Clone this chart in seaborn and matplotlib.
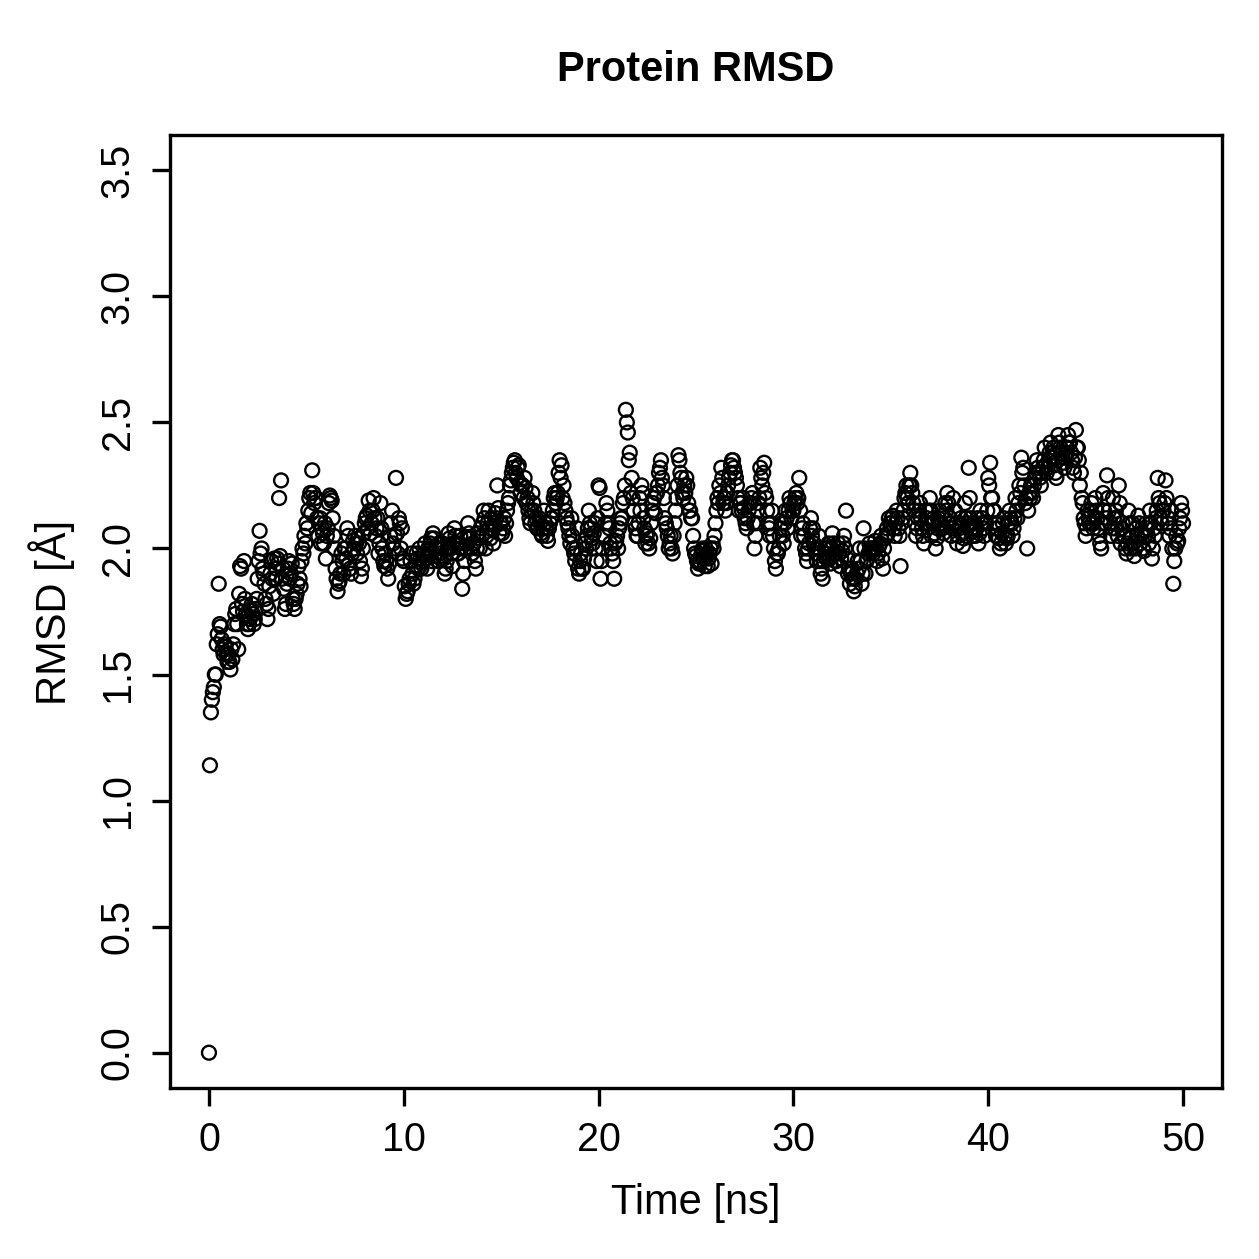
import numpy as np
import pandas as pd
import matplotlib
matplotlib.use("Agg")
import matplotlib.pyplot as plt
import seaborn as sns

# RMSD values (Å) at t = 0.0, 0.1, 0.2 ... ns (1 ns per row)
rmsd_00_09 = [0.00, 1.35, 1.43, 1.50, 1.62, 1.86, 1.69, 1.60, 1.62, 1.58,
              1.58, 1.52, 1.56, 1.70, 1.76, 1.60, 1.93, 1.78, 1.95, 1.74,
              1.68, 1.72, 1.78, 1.70, 1.76, 1.88, 2.07, 2.00, 1.90, 1.80,
              1.72, 1.85, 1.95, 1.82, 1.88, 1.96, 2.20, 2.27, 1.92, 1.76,
              1.86, 1.95, 1.90, 1.80, 1.76, 1.82, 1.93, 1.85, 2.00, 2.05,
              2.10, 2.15, 2.22, 2.31, 2.18, 2.20, 2.05, 2.12, 2.08, 2.02,
              1.96, 2.08, 2.21, 2.19, 2.05, 1.92, 1.83, 1.87, 1.98, 1.90,
              2.00, 2.08, 1.94, 1.90, 2.03, 2.05, 1.98, 2.02, 1.89, 2.00,
              2.10, 2.13, 2.19, 2.06, 2.15, 2.12, 2.08, 1.98, 2.18, 2.00,
              1.93, 1.95, 1.88, 2.05, 2.15, 2.00, 2.28, 1.98, 2.10, 2.08]
rmsd_10_19 = [1.95, 1.80, 1.83, 1.88, 1.98, 1.86, 1.93, 1.96, 2.00, 1.92,
              1.95, 2.02, 1.92, 1.98, 2.04, 2.06, 1.97, 2.00, 2.02, 1.96,
              2.02, 1.90, 1.95, 2.06, 2.00, 1.93, 2.08, 2.02, 1.98, 2.05,
              1.84, 1.95, 2.00, 2.10, 2.04, 1.98, 2.02, 1.92, 2.06, 2.00,
              2.05, 2.15, 2.00, 2.10, 2.08, 2.12, 2.02, 2.14, 2.25, 2.06,
              2.10, 2.08, 2.05, 2.15, 2.20, 2.27, 2.32, 2.35, 2.28, 2.33,
              2.22, 2.25, 2.28, 2.18, 2.15, 2.10, 2.22, 2.15, 2.12, 2.08,
              2.10, 2.05, 2.15, 2.08, 2.03, 2.10, 2.12, 2.20, 2.18, 2.22,
              2.35, 2.33, 2.25, 2.15, 2.10, 2.05, 2.12, 2.00, 1.95, 2.08,
              1.90, 1.98, 1.92, 2.02, 2.05, 2.15, 2.08, 2.02, 2.10, 1.95]
rmsd_20_29 = [2.25, 1.88, 2.00, 2.05, 2.18, 2.10, 2.02, 1.98, 1.88, 2.03,
              2.00, 2.10, 2.12, 2.20, 2.55, 2.46, 2.38, 2.28, 2.15, 2.08,
              2.05, 2.20, 2.25, 2.12, 2.02, 2.06, 2.00, 2.10, 2.18, 2.14,
              2.22, 2.30, 2.35, 2.25, 2.12, 2.08, 2.00, 2.05, 1.98, 2.10,
              2.20, 2.37, 2.30, 2.22, 2.25, 2.28, 2.18, 2.15, 2.12, 2.00,
              1.97, 1.92, 1.95, 1.99, 1.96, 2.00, 1.93, 1.98, 1.94, 2.00,
              2.10, 2.20, 2.25, 2.32, 2.18, 2.15, 2.22, 2.28, 2.33, 2.35,
              2.30, 2.25, 2.15, 2.18, 2.20, 2.12, 2.08, 2.15, 2.18, 2.22,
              2.00, 2.10, 2.18, 2.32, 2.25, 2.34, 2.20, 2.10, 2.05, 2.15,
              2.00, 1.92, 1.98, 2.05, 2.10, 2.02, 2.15, 2.08, 2.20, 2.12]
rmsd_30_39 = [2.15, 2.20, 2.18, 2.28, 2.05, 2.10, 2.00, 1.95, 2.02, 2.12,
              2.08, 2.00, 1.95, 2.05, 1.90, 1.88, 2.00, 1.96, 2.02, 1.94,
              2.06, 1.98, 1.95, 2.02, 1.93, 1.99, 2.05, 2.15, 1.90, 1.86,
              1.92, 1.83, 1.88, 1.95, 2.00, 1.86, 2.08, 1.90, 1.96, 2.02,
              2.00, 1.98, 2.03, 1.95, 2.01, 2.05, 1.92, 2.04, 2.08, 2.12,
              2.10, 2.13, 2.05, 2.15, 2.08, 1.93, 2.12, 2.20, 2.25, 2.18,
              2.30, 2.22, 2.15, 2.05, 2.12, 2.18, 2.08, 2.02, 2.15, 2.10,
              2.20, 2.05, 2.12, 2.00, 2.08, 2.15, 2.10, 2.06, 2.18, 2.22,
              2.10, 2.05, 2.20, 2.15, 2.02, 2.08, 2.12, 2.01, 2.18, 2.05,
              2.32, 2.12, 2.05, 2.10, 2.08, 2.02, 2.15, 2.12, 2.05, 2.10]
rmsd_40_50 = [2.28, 2.34, 2.20, 2.15, 2.05, 2.10, 2.00, 2.06, 2.12, 2.02,
              2.05, 2.15, 2.10, 2.08, 2.20, 2.12, 2.25, 2.36, 2.32, 2.18,
              2.00, 2.22, 2.25, 2.20, 2.28, 2.35, 2.30, 2.25, 2.32, 2.40,
              2.30, 2.35, 2.42, 2.38, 2.33, 2.28, 2.45, 2.40, 2.36, 2.32,
              2.38, 2.45, 2.42, 2.35, 2.30, 2.47, 2.40, 2.25, 2.20, 2.12,
              2.05, 2.15, 2.10, 2.18, 2.08, 2.20, 2.12, 2.05, 2.00, 2.22,
              2.10, 2.29, 2.15, 2.05, 2.20, 2.08, 2.12, 2.25, 2.02, 2.10,
              2.05, 1.98, 2.15, 2.00, 2.10, 1.97, 2.08, 2.13, 2.02, 2.06,
              1.99, 2.10, 2.05, 2.15, 1.96, 2.08, 2.12, 2.28, 2.18, 2.10,
              2.15, 2.27, 2.10, 2.05, 2.15, 1.86, 2.00, 2.02, 2.08, 2.18,
              2.10]

# RMSD values (Å) at the in-between frames t = 0.05, 0.15, 0.25 ... ns
rmsd_half_00_09 = [1.14, 1.40, 1.45, 1.50, 1.66, 1.70, 1.64, 1.58, 1.61, 1.55,
                   1.55, 1.60, 1.62, 1.74, 1.70, 1.82, 1.92, 1.75, 1.80, 1.70,
                   1.70, 1.76, 1.74, 1.72, 1.80, 1.95, 1.98, 1.92, 1.86, 1.78,
                   1.76, 1.90, 1.88, 1.96, 1.92, 1.94, 1.97, 1.88, 1.84, 1.78,
                   1.92, 1.88, 1.94, 1.78, 1.80, 1.86, 1.88, 1.95, 1.98, 2.02,
                   2.08, 2.20, 2.14, 2.22, 2.20, 2.12, 2.10, 2.02, 2.06, 2.10,
                   2.05, 2.18, 2.20, 2.12, 2.00, 1.88, 1.86, 1.90, 1.95, 2.00,
                   1.96, 2.05, 1.92, 1.98, 2.00, 2.02, 2.04, 1.95, 1.92, 2.06,
                   2.12, 2.08, 2.15, 2.10, 2.20, 2.05, 2.12, 2.02, 2.08, 1.95,
                   1.98, 1.92, 1.94, 2.10, 2.02, 2.05, 2.06, 2.12, 2.00, 1.96]
rmsd_half_10_19 = [1.85, 1.82, 1.86, 1.95, 1.90, 1.88, 1.98, 1.92, 1.96, 1.94,
                   1.98, 1.96, 2.00, 2.02, 1.95, 2.04, 2.00, 1.95, 1.98, 2.00,
                   1.96, 1.92, 2.00, 2.04, 1.98, 2.02, 2.05, 1.98, 2.02, 2.00,
                   1.90, 2.00, 2.04, 2.06, 2.00, 2.02, 1.95, 2.00, 2.04, 2.08,
                   2.10, 2.12, 2.05, 2.15, 2.04, 2.08, 2.10, 2.12, 2.16, 2.10,
                   2.06, 2.12, 2.10, 2.18, 2.25, 2.30, 2.34, 2.30, 2.32, 2.26,
                   2.25, 2.20, 2.24, 2.20, 2.12, 2.15, 2.18, 2.10, 2.08, 2.12,
                   2.06, 2.08, 2.10, 2.05, 2.08, 2.12, 2.15, 2.22, 2.20, 2.30,
                   2.28, 2.20, 2.18, 2.12, 2.08, 2.02, 2.05, 1.98, 2.00, 1.92,
                   1.95, 1.92, 1.96, 2.00, 2.08, 2.10, 2.04, 2.06, 2.00, 2.12]
rmsd_half_20_29 = [2.24, 1.95, 2.05, 2.10, 2.15, 2.08, 2.00, 1.95, 2.02, 2.05,
                   2.08, 2.12, 2.18, 2.25, 2.50, 2.35, 2.22, 2.20, 2.10, 2.05,
                   2.10, 2.15, 2.22, 2.08, 2.05, 2.02, 2.04, 2.15, 2.20, 2.22,
                   2.25, 2.32, 2.28, 2.20, 2.10, 2.05, 2.02, 2.00, 2.05, 2.15,
                   2.25, 2.35, 2.28, 2.20, 2.22, 2.25, 2.15, 2.12, 2.05, 1.98,
                   1.95, 1.94, 1.97, 2.00, 1.93, 1.98, 1.96, 2.00, 2.02, 2.05,
                   2.15, 2.18, 2.22, 2.28, 2.20, 2.18, 2.25, 2.30, 2.35, 2.32,
                   2.28, 2.20, 2.18, 2.15, 2.16, 2.10, 2.12, 2.18, 2.20, 2.10,
                   2.05, 2.15, 2.20, 2.28, 2.30, 2.22, 2.15, 2.08, 2.10, 2.05,
                   1.95, 1.98, 2.00, 2.08, 2.05, 2.10, 2.12, 2.15, 2.18, 2.15]
rmsd_half_30_39 = [2.18, 2.22, 2.20, 2.15, 2.08, 2.05, 1.98, 2.00, 2.08, 2.05,
                   2.02, 1.98, 2.00, 1.95, 1.92, 1.95, 1.98, 2.00, 1.96, 2.00,
                   2.02, 1.95, 2.00, 1.98, 1.96, 2.02, 2.00, 1.96, 1.92, 1.90,
                   1.88, 1.85, 1.90, 1.92, 1.95, 1.90, 2.00, 1.95, 1.98, 2.00,
                   1.99, 2.00, 2.00, 1.98, 2.02, 1.96, 2.00, 2.05, 2.06, 2.10,
                   2.12, 2.08, 2.10, 2.12, 2.05, 2.10, 2.15, 2.22, 2.20, 2.25,
                   2.25, 2.18, 2.10, 2.08, 2.15, 2.12, 2.05, 2.10, 2.12, 2.15,
                   2.15, 2.10, 2.06, 2.04, 2.12, 2.10, 2.08, 2.12, 2.15, 2.18,
                   2.12, 2.08, 2.15, 2.10, 2.05, 2.10, 2.06, 2.04, 2.12, 2.10,
                   2.20, 2.08, 2.10, 2.05, 2.12, 2.06, 2.10, 2.08, 2.10, 2.15]
rmsd_half_40_49 = [2.25, 2.20, 2.15, 2.10, 2.08, 2.04, 2.02, 2.10, 2.05, 2.04,
                   2.10, 2.12, 2.05, 2.12, 2.15, 2.18, 2.22, 2.30, 2.25, 2.20,
                   2.15, 2.20, 2.22, 2.25, 2.30, 2.32, 2.28, 2.30, 2.35, 2.33,
                   2.32, 2.38, 2.36, 2.40, 2.30, 2.35, 2.42, 2.38, 2.34, 2.36,
                   2.40, 2.42, 2.38, 2.32, 2.36, 2.40, 2.35, 2.30, 2.18, 2.10,
                   2.08, 2.12, 2.15, 2.10, 2.12, 2.15, 2.08, 2.02, 2.10, 2.15,
                   2.12, 2.20, 2.10, 2.08, 2.12, 2.15, 2.05, 2.18, 2.08, 2.05,
                   2.00, 2.02, 2.10, 2.05, 2.02, 2.00, 2.05, 2.10, 2.06, 2.00,
                   2.05, 2.08, 2.02, 2.10, 2.00, 2.05, 2.15, 2.20, 2.12, 2.15,
                   2.18, 2.20, 2.12, 2.08, 2.00, 1.95, 2.05, 2.03, 2.12, 2.15]

frame_step_ns = 0.1
x_ticks = [0, 10, 20, 30, 40, 50]
y_ticks = [0.0, 0.5, 1.0, 1.5, 2.0, 2.5, 3.0, 3.5]
y_tick_labels = ["0.0", "0.5", "1.0", "1.5", "2.0", "2.5", "3.0", "3.5"]

rmsd_main = rmsd_00_09 + rmsd_10_19 + rmsd_20_29 + rmsd_30_39 + rmsd_40_50
rmsd_half = (rmsd_half_00_09 + rmsd_half_10_19 + rmsd_half_20_29
             + rmsd_half_30_39 + rmsd_half_40_49)
t_main = np.arange(len(rmsd_main)) * frame_step_ns
t_half = np.arange(len(rmsd_half)) * frame_step_ns + frame_step_ns / 2
df = pd.DataFrame({"Time": np.concatenate([t_main, t_half]),
                   "RMSD": rmsd_main + rmsd_half}).sort_values("Time")

sns.set_theme(style="white")
plt.rcParams["font.family"] = ["Liberation Sans", "DejaVu Sans"]

fig = plt.figure(figsize=(12.59, 12.59), dpi=100)
ax = fig.add_axes([170 / 1259, 1 - 1088 / 1259, (1222 - 170) / 1259, (1088 - 135) / 1259])

sns.scatterplot(data=df, x="Time", y="RMSD", ax=ax, marker="o", s=100,
                linewidth=1.7, legend=False)
coll = ax.collections[0]
coll.set_facecolor("none")
coll.set_edgecolor("black")
coll.set_linewidth(1.7)
coll.set_sizes([100])

ax.set_xlim(-2, 52)
ax.set_ylim(-0.14, 3.64)
ax.set_xticks(x_ticks)
ax.set_xticklabels([str(v) for v in x_ticks], fontsize=28.5)
ax.set_yticks(y_ticks)
ax.set_yticklabels(y_tick_labels, fontsize=28.5, rotation=90, va="center", ha="right")
ax.tick_params(axis="both", direction="out", length=13, width=2.4, color="black",
               pad=11, labelcolor="black", bottom=True, left=True)
for sp in ax.spines.values():
    sp.set_color("black")
    sp.set_linewidth(2.4)
ax.set_xlabel("")
ax.set_ylabel("")

fig.text(696 / 1259, 1 - 70 / 1259, "Protein RMSD", ha="center", va="center",
         fontsize=30, fontweight="bold", color="black")
fig.text(696 / 1259, 1 - 1203 / 1259, "Time [ns]", ha="center", va="center",
         fontsize=30, color="black")
fig.text(52 / 1259, 1 - 612 / 1259, "RMSD [Å]", ha="center", va="center",
         rotation=90, fontsize=30, color="black")

fig.savefig("out.png", dpi=100, facecolor="white")
